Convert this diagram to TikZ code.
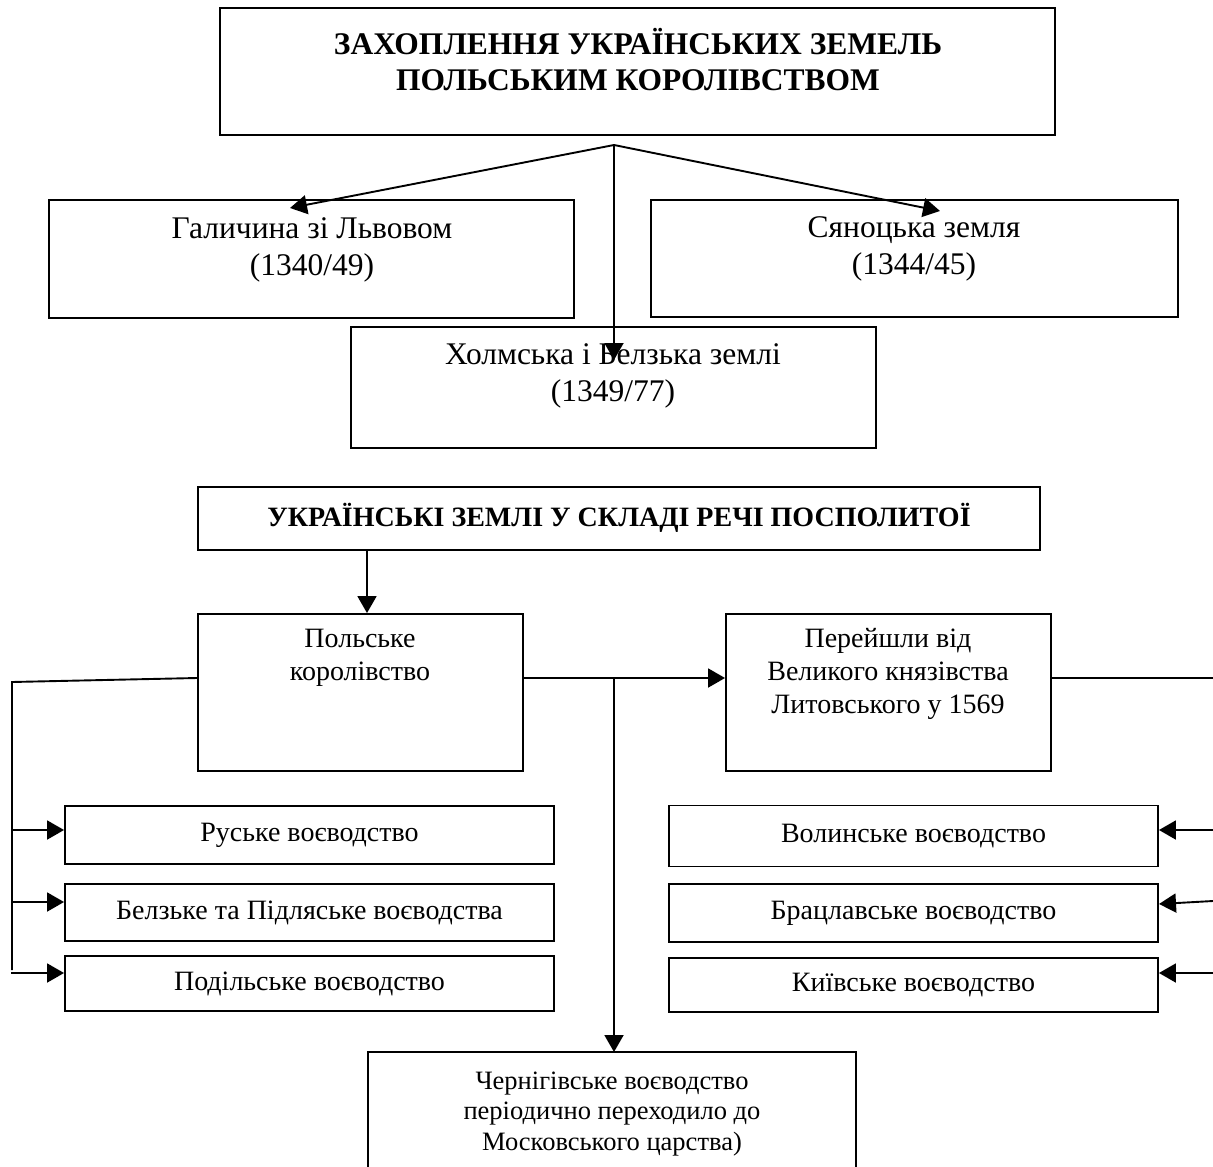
\documentclass[tikz,border=0pt]{standalone}
\usepackage{fontspec}
\setmainfont{Liberation Serif}
\usetikzlibrary{arrows.meta,calc}
\begin{document}
\begin{tikzpicture}[x=1pt,y=-1pt,
  box/.style={draw, line width=1.9pt, inner sep=0pt, align=center},
  ln/.style={line width=1.9pt},
  arr/.style={line width=1.9pt, -{Triangle[length=17pt,width=19pt]}},
  big/.style={font=\fontsize{31.5}{37.5}\selectfont, align=center, inner sep=0pt},
  small/.style={font=\fontsize{28}{33}\selectfont, align=center, inner sep=0pt},
  smaller/.style={font=\fontsize{26.5}{30.5}\selectfont, align=center, inner sep=0pt},
  ttl/.style={font=\fontsize{31.5}{36}\selectfont\bfseries, align=center, inner sep=0pt},
  ttlb/.style={font=\fontsize{28}{30}\selectfont\bfseries, align=center, inner sep=0pt}]
\clip (0,0) rectangle (1213,1167);
\fill[white] (0,0) rectangle (1213,1167);

% top part
\node[box, minimum width=835pt, minimum height=127pt] (top) at (637.5,71.5) {};
\node[ttl] (toptxt) at (638,60) {ЗАХОПЛЕННЯ УКРАЇНСЬКИХ ЗЕМЕЛЬ\\ПОЛЬСЬКИМ КОРОЛІВСТВОМ};

\node[box, minimum width=525pt, minimum height=118pt] (gal) at (311.5,259) {};
\node[big] (galtxt) at (312,250) {Галичина зі Львовом\\(1340/49)};

\node[box, minimum width=527pt, minimum height=117pt] (syan) at (914.5,258.5) {};
\node[big] (syantxt) at (914,249) {Сяноцька земля\\(1344/45)};

\node[box, minimum width=525pt, minimum height=121pt] (kholm) at (613.5,387.5) {};
\node[big] (kholmtxt) at (613,376) {Холмська і Белзька землі\\(1349/77)};

\coordinate (fan) at (614,145);
\coordinate (galtip) at (290,208);
\coordinate (syantip) at (940,211);
\coordinate (kholmtip) at (614,360);
\draw[arr] (fan) -- (galtip);
\draw[arr] (fan) -- (syantip);
\draw[arr] (fan) -- (kholmtip);

% second part
\node[box, minimum width=842pt, minimum height=63pt] (rp) at (619,518.5) {};
\node[ttlb] (rptxt) at (619,518) {УКРАЇНСЬКІ ЗЕМЛІ У СКЛАДІ РЕЧІ ПОСПОЛИТОЇ};

\node[box, minimum width=325pt, minimum height=157pt] (pk) at (360.5,692.5) {};
\node[small] (pktxt) at (360,658) {Польське\\королівство};

\node[box, minimum width=325pt, minimum height=157pt] (pr) at (888.5,692.5) {};
\node[small] (prtxt) at (888,674) {Перейшли від\\Великого князівства\\Литовського у 1569};

\coordinate (x367) at (367,0);
\draw[arr] (rp.south -| x367) -- (pk.north -| x367);

\coordinate (h1) at (0,678);
\coordinate (j1) at (614,678);
\draw[arr] (pk.east |- h1) -- (pr.west |- h1);
\draw[arr] (j1) -- (614,1052);

% left voivodeships
\node[box, small, minimum width=489pt, minimum height=58pt] (rv) at (309.5,835) {Руське воєводство};
\node[box, small, minimum width=489pt, minimum height=57pt] (bp) at (309.5,912.5) {Белзьке та Підляське воєводства};
\node[box, small, minimum width=489pt, minimum height=55pt] (pv) at (309.5,983.5) {Подільське воєводство};

\coordinate (lt) at (12,682);
\coordinate (lb) at (12,970);
\draw[ln] (pk.west |- h1) -- (lt) -- (lb);
\coordinate (la1) at (12,830);
\coordinate (la2) at (12,902);
\coordinate (la3) at (11,973);
\draw[arr] (la1) -- (la1 -| rv.west);
\draw[arr] (la2) -- (la2 -| bp.west);
\draw[arr] (la3) -- (la3 -| pv.west);

% right voivodeships
\node[box, small, minimum width=489pt, minimum height=61pt] (vv) at (913.5,836) {Волинське воєводство};
\node[box, small, minimum width=489pt, minimum height=58pt] (brv) at (913.5,913) {Брацлавське воєводство};
\node[box, small, minimum width=489pt, minimum height=54pt] (kv) at (913.5,985) {Київське воєводство};

\coordinate (rt) at (1213,678);
\draw[ln] (pr.east |- h1) -- (rt);
\coordinate (ra1) at (1213,830);
\coordinate (ra2) at (1213,901);
\coordinate (ra2e) at (1159,904);
\coordinate (ra3) at (1213,973);
\draw[arr] (ra1) -- (ra1 -| vv.east);
\draw[arr] (ra2) -- (ra2e);
\draw[arr] (ra3) -- (ra3 -| kv.east);

% Chernihiv
\node[box, minimum width=488pt, minimum height=130pt] (ch) at (612,1117) {};
\node[smaller] (chtxt) at (612,1114) {Чернігівське воєводство\\періодично переходило до\\Московського царства)};
\end{tikzpicture}
\end{document}
